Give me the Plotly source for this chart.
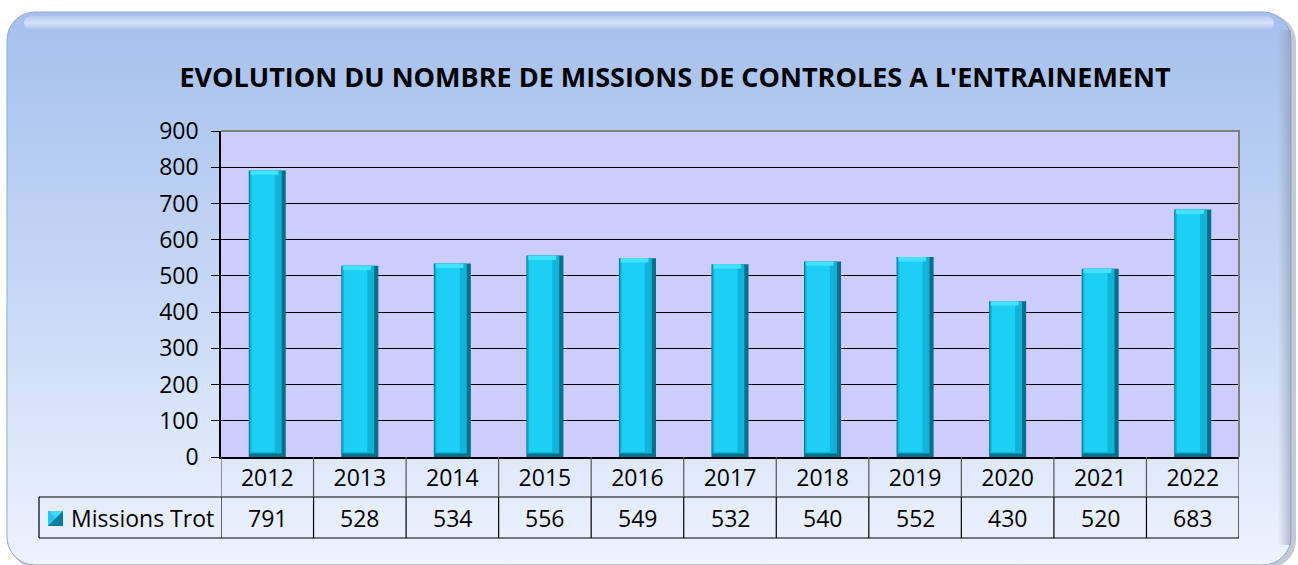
import base64
import plotly.graph_objects as go

# ---- data ----
years = ["2012", "2013", "2014", "2015", "2016", "2017", "2018", "2019", "2020", "2021", "2022"]
missions_trot = [791, 528, 534, 556, 549, 532, 540, 552, 430, 520, 683]
series_name = "Missions Trot"
title_text = "EVOLUTION DU NOMBRE DE MISSIONS DE CONTROLES A L'ENTRAINEMENT"
y_ticks = [0, 100, 200, 300, 400, 500, 600, 700, 800, 900]

# ---- geometry (pixels) ----
FW, FH = 1298, 565
L, R, T, B = 221, 1239, 131, 457
W, H = R - L, B - T
FONT = "Open Sans"


def px_x(x):
    return (x - L) / W


def px_y(y):
    return (B - y) / H


# background: rounded gradient panel as an SVG image
svg = f"""<svg xmlns='http://www.w3.org/2000/svg' width='{FW}' height='{FH}' viewBox='0 0 {FW} {FH}' preserveAspectRatio='none'>
<defs>
<linearGradient id='g' x1='0' y1='0' x2='0' y2='1'>
<stop offset='0' stop-color='#A5C0ED'/>
<stop offset='0.5' stop-color='#C6D8F6'/>
<stop offset='1' stop-color='#EEF3FD'/>
</linearGradient>
<linearGradient id='hl' x1='0' y1='0' x2='0' y2='1'>
<stop offset='0' stop-color='#FFFFFF' stop-opacity='0.15'/>
<stop offset='0.5' stop-color='#FFFFFF' stop-opacity='0.55'/>
<stop offset='1' stop-color='#FFFFFF' stop-opacity='0'/>
</linearGradient>
<linearGradient id='rs' x1='0' y1='0' x2='1' y2='0'>
<stop offset='0' stop-color='#8C98AC' stop-opacity='0'/>
<stop offset='1' stop-color='#8C98AC' stop-opacity='0.6'/>
</linearGradient>
</defs>
<rect x='9' y='14' width='1287' height='554' rx='28' fill='#A9B3C4' opacity='0.7'/>
<rect x='7' y='12' width='1284' height='553' rx='28' fill='url(#g)' stroke='#93A9CF' stroke-width='1'/>
<rect x='1278' y='30' width='13' height='515' fill='url(#rs)'/>
<rect x='24' y='16' width='1250' height='14' rx='7' fill='url(#hl)'/>
</svg>"""
svg_uri = "data:image/svg+xml;base64," + base64.b64encode(svg.encode()).decode()

fig = go.Figure()

# bevelled bars: several overlaid layers
layers = [
    dict(width=0.40, offset=-0.20, base=0, color="#076F8B"),
    dict(width=0.345, offset=-0.19, base=10, color="#10B4DA"),
    dict(width=0.25, offset=-0.17, base=14, color="#1CD0F5"),
]
for i, ly in enumerate(layers):
    fig.add_trace(go.Bar(
        x=list(range(len(years))),
        y=[v - ly["base"] for v in missions_trot],
        base=ly["base"],
        width=ly["width"],
        offset=ly["offset"],
        marker=dict(color=ly["color"], line=dict(width=0)),
        name=series_name,
        showlegend=False,
        hoverinfo="skip" if i else "x+y",
    ))
# top highlight bevel
fig.add_trace(go.Bar(
    x=list(range(len(years))),
    y=[12 for v in missions_trot],
    base=[v - 12 for v in missions_trot],
    width=0.30, offset=-0.18,
    marker=dict(color="#45E2FF", line=dict(width=0)),
    showlegend=False, hoverinfo="skip",
))

shapes = []
# lavender plot area
shapes.append(dict(type="rect", xref="paper", yref="paper", x0=0, x1=1, y0=0, y1=1,
                   fillcolor="#CDCDFD", line=dict(width=0), layer="below"))
# gray top/right border
shapes.append(dict(type="path", xref="paper", yref="paper",
                   path="M 0,1 L 1,1 L 1,0", line=dict(color="#7F7F7F", width=2), layer="above"))

# data table lines
y_row1 = px_y(497)
y_row2 = px_y(538)
shapes.append(dict(type="line", xref="paper", yref="paper", x0=px_x(39), x1=1, y0=y_row1, y1=y_row1,
                   line=dict(color="black", width=1.2)))
shapes.append(dict(type="line", xref="paper", yref="paper", x0=px_x(39), x1=1, y0=y_row2, y1=y_row2,
                   line=dict(color="black", width=1.2)))
shapes.append(dict(type="line", xref="paper", yref="paper", x0=px_x(39), x1=px_x(39), y0=y_row1, y1=y_row2,
                   line=dict(color="black", width=1.2)))
for k in range(len(years) + 1):
    xb = k - 0.5
    shapes.append(dict(type="line", xref="x", yref="paper", x0=xb, x1=xb, y0=0, y1=y_row1,
                       line=dict(color="#555555", width=1.2)))
    shapes.append(dict(type="line", xref="x", yref="paper", x0=xb, x1=xb, y0=y_row1, y1=y_row2,
                       line=dict(color="black", width=1.2)))

# legend key (bevelled square)
shapes.append(dict(type="rect", xref="paper", yref="paper", x0=px_x(48), x1=px_x(63),
                   y0=px_y(526), y1=px_y(511), fillcolor="#0A7C9B", line=dict(width=0)))
shapes.append(dict(type="path", xref="paper", yref="paper",
                   path=f"M {px_x(48)},{px_y(511)} L {px_x(55.5)},{px_y(518.5)} L {px_x(48)},{px_y(526)} Z",
                   fillcolor="#22C8EC", line=dict(width=0)))
shapes.append(dict(type="path", xref="paper", yref="paper",
                   path=f"M {px_x(48)},{px_y(511)} L {px_x(63)},{px_y(511)} L {px_x(55.5)},{px_y(518.5)} Z",
                   fillcolor="#3FD9F8", line=dict(width=0)))

annotations = []
y_val = px_y(518)
for i, v in enumerate(missions_trot):
    annotations.append(dict(x=i, y=y_val, xref="x", yref="paper", text=str(v), showarrow=False,
                            font=dict(family=FONT, size=23, color="black"), xanchor="center", yanchor="middle"))
annotations.append(dict(x=px_x(69), y=y_val, xref="paper", yref="paper", text=series_name, showarrow=False,
                        font=dict(family=FONT, size=23, color="black"), xanchor="left", yanchor="middle"))

fig.update_layout(
    width=FW, height=FH,
    margin=dict(l=L, r=FW - R, t=T, b=FH - B, pad=0),
    paper_bgcolor="white",
    plot_bgcolor="rgba(0,0,0,0)",
    barmode="overlay",
    showlegend=False,
    title=dict(text=f"<b>{title_text}</b>", x=675 / FW, xref="container", xanchor="center",
               y=1 - 78 / FH, yref="container", yanchor="middle",
               font=dict(family=FONT, size=27, color="black")),
    xaxis=dict(range=[-0.5, len(years) - 0.5], tickmode="array", tickvals=list(range(len(years))),
               ticktext=years, showgrid=False, zeroline=False, showline=True, linecolor="black",
               linewidth=1.5, ticks="", ticklabelstandoff=0,
               tickfont=dict(family=FONT, size=23, color="black"), fixedrange=True),
    yaxis=dict(range=[0, 900], tickmode="array", tickvals=y_ticks, showgrid=True, gridcolor="black",
               gridwidth=1, zeroline=False, showline=True, linecolor="black", linewidth=1.5,
               ticks="outside", ticklen=8, tickcolor="black", ticklabelstandoff=8,
               tickfont=dict(family=FONT, size=23, color="black"), fixedrange=True),
    shapes=shapes,
    annotations=annotations,
    images=[dict(source=svg_uri, xref="paper", yref="paper", x=px_x(0), y=px_y(0),
                 sizex=FW / W, sizey=FH / H, xanchor="left", yanchor="top",
                 sizing="stretch", layer="below")],
)

fig.write_html("out.html", config={"displayModeBar": False},
               post_script="document.body.style.margin='0';document.body.style.overflow='hidden';")
